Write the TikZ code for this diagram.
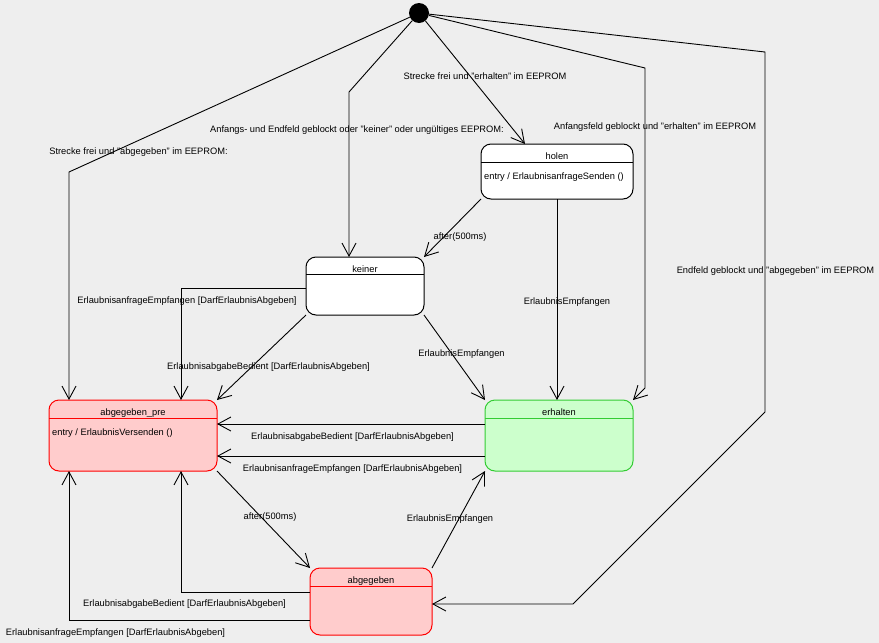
\documentclass[tikz,border=0pt]{standalone}
\usepackage{fontspec}
\setmainfont{Liberation Sans}
\usetikzlibrary{arrows.meta,calc}
\definecolor{bg}{HTML}{EEEEEE}
\definecolor{pinkfill}{HTML}{FFCCCC}
\definecolor{pinkline}{HTML}{FF0000}
\definecolor{greenfill}{HTML}{CCFFCC}
\definecolor{greenline}{HTML}{33CC33}
\begin{document}
\begin{tikzpicture}[x=1pt,y=-1pt,
  every node/.style={font=\fontsize{9.3}{11}\selectfont},
  statebox/.style={draw=black, fill=white, rounded corners=10pt, line width=1pt, inner sep=0pt, outer sep=0pt, anchor=north west},
  redstate/.style={statebox, draw=pinkline, fill=pinkfill},
  greenstate/.style={statebox, draw=greenline, fill=greenfill},
  trans/.style={line width=0.9pt, -{Straight Barb[length=13pt,width=14pt]}},
  lab/.style={inner sep=0pt, text height=7pt, text depth=2pt},
  title/.style={inner sep=0pt, anchor=base},
  entrytxt/.style={inner sep=0pt, anchor=base west},
]
\useasboundingbox (0,0) rectangle (879,643);
\fill[bg] (0,0) rectangle (879,643);

% states
\node[statebox, minimum width=152pt, minimum height=55pt] (holen) at (481,144) {};
\node[statebox, minimum width=118pt, minimum height=58pt] (keiner) at (306,257) {};
\node[redstate, minimum width=168pt, minimum height=71pt] (abgpre) at (49,400) {};
\node[greenstate, minimum width=148pt, minimum height=71pt] (erhalten) at (485,400) {};
\node[redstate, minimum width=122pt, minimum height=67pt] (abg) at (310,568) {};

% header lines
\draw[line width=1pt] ($(holen.north west)+(0,18)$) -- ($(holen.north east)+(0,18)$);
\draw[line width=1pt] ($(keiner.north west)+(0,17)$) -- ($(keiner.north east)+(0,17)$);
\draw[line width=1pt, pinkline] ($(abgpre.north west)+(0,18)$) -- ($(abgpre.north east)+(0,18)$);
\draw[line width=1pt, greenline] ($(erhalten.north west)+(0,18)$) -- ($(erhalten.north east)+(0,18)$);
\draw[line width=1pt, pinkline] ($(abg.north west)+(0,18)$) -- ($(abg.north east)+(0,18)$);

% titles
\node[title] (holenT) at ($(holen.north)+(0,15.5)$) {holen};
\node[title] (keinerT) at ($(keiner.north)+(0,15)$) {keiner};
\node[title] (abgpreT) at ($(abgpre.north)+(0,15)$) {abgegeben\_pre};
\node[title] (erhaltenT) at ($(erhalten.north)+(0,15)$) {erhalten};
\node[title] (abgT) at ($(abg.north)+(0,15)$) {abgegeben};
\node[entrytxt] (holenE) at ($(holen.north west)+(3,35)$) {entry / ErlaubnisanfrageSenden ()};
\node[entrytxt] (abgpreE) at ($(abgpre.north west)+(3,35)$) {entry / ErlaubnisVersenden ()};

% initial state
\node[circle, fill=black, minimum size=20pt, inner sep=0pt] (init) at (419,13) {};

% bend coordinates
\coordinate (b1) at (69,172);
\coordinate (b2) at (349,92);
\coordinate (b3) at (525,100);
\coordinate (b4a) at (645,68);
\coordinate (b4b) at (645,388);
\coordinate (b5a) at (765,52);
\coordinate (b5b) at (765,412);
\coordinate (b5c) at (573,604);
\coordinate (c7) at (557,300);
\coordinate (c8) at (181,288);
\coordinate (c11) at (300,424);
\coordinate (c12) at (300,456);
\coordinate (c15) at (181,592);
\coordinate (c16) at (69,620);

% transitions from initial
\draw[trans] (init) -- (b1) -- (b1 |- abgpre.north);
\draw[trans] (init) -- (b2) -- (b2 |- keiner.north);
\draw[trans] (init) -- (b3 |- holen.north);
\draw[trans] (init) -- (b4a) -- (b4b) -- (erhalten.north east);
\draw[trans] (init) -- (b5a) -- (b5b) -- (b5c) -- (b5c -| abg.east);

% other transitions
\draw[trans] (holen.south west) -- (keiner.north east);
\draw[trans] (c7 |- holen.south) -- (c7 |- erhalten.north);
\draw[trans] (c8 -| keiner.west) -- (c8) -- (c8 |- abgpre.north);
\draw[trans] (keiner.south west) -- (abgpre.north east);
\draw[trans] (keiner.south east) -- (erhalten.north west);
\draw[trans] (c11 -| erhalten.west) -- (c11 -| abgpre.east);
\draw[trans] (c12 -| erhalten.west) -- (c12 -| abgpre.east);
\draw[trans] (abgpre.south east) -- (abg.north west);
\draw[trans] (abg.north east) -- (erhalten.south west);
\draw[trans] (c15 -| abg.west) -- (c15) -- (c15 |- abgpre.south);
\draw[trans] (c16 -| abg.west) -- (c16) -- (c16 |- abgpre.south);

% labels
\node[lab] (l1) at (138.5,152) {Strecke frei und "abgegeben" im EEPROM:};
\node[lab] (l2) at (357,130) {Anfangs- und Endfeld geblockt oder "keiner" oder ungültiges EEPROM:};
\node[lab] (l3) at (485,77) {Strecke frei und "erhalten" im EEPROM};
\node[lab] (l4) at (655,127) {Anfangsfeld geblockt und "erhalten" im EEPROM};
\node[lab] (l5) at (775.5,271) {Endfeld geblockt und "abgegeben" im EEPROM};
\node[lab] (l6) at (460,237) {after(500ms)};
\node[lab] (l7) at (567,302) {ErlaubnisEmpfangen};
\node[lab] (l8) at (187,301) {ErlaubnisanfrageEmpfangen [DarfErlaubnisAbgeben]};
\node[lab] (l9) at (268.5,367) {ErlaubnisabgabeBedient [DarfErlaubnisAbgeben]};
\node[lab] (l10) at (461.5,354) {ErlaubnisEmpfangen};
\node[lab] (l11) at (352.5,437) {ErlaubnisabgabeBedient [DarfErlaubnisAbgeben]};
\node[lab] (l12) at (352.5,469) {ErlaubnisanfrageEmpfangen [DarfErlaubnisAbgeben]};
\node[lab] (l13) at (270,517) {after(500ms)};
\node[lab] (l14) at (450,519) {ErlaubnisEmpfangen};
\node[lab] (l15) at (184.5,604) {ErlaubnisabgabeBedient [DarfErlaubnisAbgeben]};
\node[lab] (l16) at (115.5,633) {ErlaubnisanfrageEmpfangen [DarfErlaubnisAbgeben]};
\end{tikzpicture}
\end{document}
